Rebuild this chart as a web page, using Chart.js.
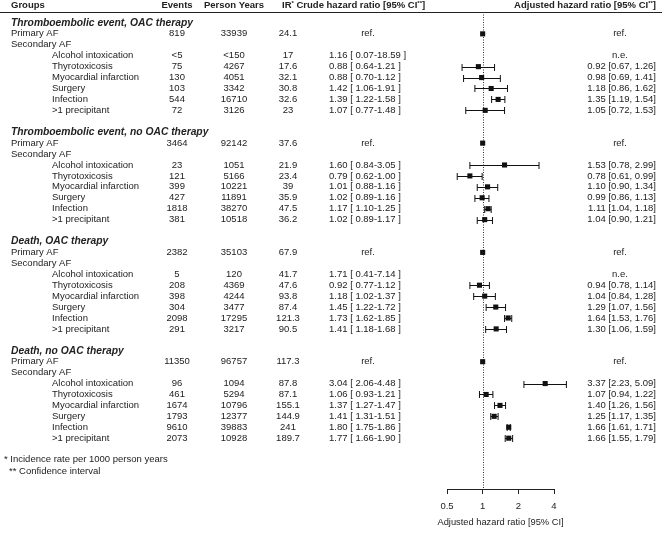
<!DOCTYPE html>
<html>
<head>
<meta charset="utf-8">
<script src="https://cdn.jsdelivr.net/npm/chart.js@4.4.1/dist/chart.umd.min.js"></script>
<style>
body { margin: 0; background: #fff; }
#wrap { width: 668px; height: 533px; position: relative; }
</style>
</head>
<body>
<div id="wrap"><canvas id="forest"></canvas></div>
<script>
// ---- data ----
var groups = ['Thromboembolic event, OAC therapy', 'Thromboembolic event, no OAC therapy', 'Death, OAC therapy', 'Death, no OAC therapy'];
var precipitants = ['Alcohol intoxication', 'Thyrotoxicosis', 'Myocardial infarction', 'Surgery', 'Infection', '>1 precipitant'];

var primaryEvents = [819, 3464, 2382, 11350];
var primaryPY = [33939, 92142, 35103, 96757];
var primaryIR = [24.1, 37.6, 67.9, 117.3];
var refHR = 1;

var events = [
    ['<5', 75, 130, 103, 544, 72],
    [23, 121, 399, 427, 1818, 381],
    [5, 208, 398, 304, 2098, 291],
    [96, 461, 1674, 1793, 9610, 2073]
];
var personYears = [
    ['<150', 4267, 4051, 3342, 16710, 3126],
    [1051, 5166, 10221, 11891, 38270, 10518],
    [120, 4369, 4244, 3477, 17295, 3217],
    [1094, 5294, 10796, 12377, 39883, 10928]
];
var incidence = [
    [17, 17.6, 32.1, 30.8, 32.6, 23],
    [21.9, 23.4, 39, 35.9, 47.5, 36.2],
    [41.7, 47.6, 93.8, 87.4, 121.3, 90.5],
    [87.8, 87.1, 155.1, 144.9, 241, 189.7]
];
// crude hazard ratios [estimate, lower, upper]
var crudeHR = [
    [[1.16, 0.07, 18.59], [0.88, 0.64, 1.21], [0.88, 0.70, 1.12], [1.42, 1.06, 1.91], [1.39, 1.22, 1.58], [1.07, 0.77, 1.48]],
    [[1.60, 0.84, 3.05], [0.79, 0.62, 1.00], [1.01, 0.88, 1.16], [1.02, 0.89, 1.16], [1.17, 1.10, 1.25], [1.02, 0.89, 1.17]],
    [[1.71, 0.41, 7.14], [0.92, 0.77, 1.12], [1.18, 1.02, 1.37], [1.45, 1.22, 1.72], [1.73, 1.62, 1.85], [1.41, 1.18, 1.68]],
    [[3.04, 2.06, 4.48], [1.06, 0.93, 1.21], [1.37, 1.27, 1.47], [1.41, 1.31, 1.51], [1.80, 1.75, 1.86], [1.77, 1.66, 1.90]]
];
// adjusted hazard ratios (null = not estimable)
var adjHR = [
    [null, [0.92, 0.67, 1.26], [0.98, 0.69, 1.41], [1.18, 0.86, 1.62], [1.35, 1.19, 1.54], [1.05, 0.72, 1.53]],
    [[1.53, 0.78, 2.99], [0.78, 0.61, 0.99], [1.10, 0.90, 1.34], [0.99, 0.86, 1.13], [1.11, 1.04, 1.18], [1.04, 0.90, 1.21]],
    [null, [0.94, 0.78, 1.14], [1.04, 0.84, 1.28], [1.29, 1.07, 1.56], [1.64, 1.53, 1.76], [1.30, 1.06, 1.59]],
    [[3.37, 2.23, 5.09], [1.07, 0.94, 1.22], [1.40, 1.26, 1.56], [1.25, 1.17, 1.35], [1.66, 1.61, 1.71], [1.66, 1.55, 1.79]]
];
var xTicks = [0.5, 1, 2, 4];
var xTitle = 'Adjusted hazard ratio [95% CI]';

// ---- layout helpers ----
var ROWS_PER_GROUP = 10;
var FONT = '"Liberation Sans", Arial, sans-serif';
var TXT = '#222';

function groupRow(g) { return g * ROWS_PER_GROUP; }

var points = [];
groups.forEach(function (name, g) {
    points.push({ x: refHR, y: groupRow(g) + 1 });
    adjHR[g].forEach(function (hr, k) {
        if (hr) points.push({ x: hr[0], y: groupRow(g) + 3 + k });
    });
});

function text(ctx, s, x, y, align, font) {
    ctx.font = font || ('9.5px ' + FONT);
    ctx.textAlign = align || 'left';
    ctx.fillText(s, x, y);
}

// draw a run of pieces, each [text, font, dy]
function runs(ctx, pieces, x, y) {
    ctx.textAlign = 'left';
    pieces.forEach(function (p) {
        ctx.font = p[1];
        ctx.fillText(p[0], x, y + (p[2] || 0));
        x += ctx.measureText(p[0]).width;
    });
    return x;
}

var tablePlugin = {
    id: 'table',
    afterDraw: function (chart) {
        var ctx = chart.ctx;
        var ys = chart.scales.y;
        var ca = chart.chartArea;
        ctx.save();
        ctx.fillStyle = TXT;
        ctx.textBaseline = 'middle';

        // header
        var hy = ys.getPixelForValue(-1.6);
        var bold = 'bold 9.5px ' + FONT;
        var sup = 'bold 6px ' + FONT;
        text(ctx, 'Groups', 11, hy, 'left', bold);
        text(ctx, 'Events', 177, hy, 'center', bold);
        text(ctx, 'Person Years', 234, hy, 'center', bold);
        runs(ctx, [['IR', bold], ['*', sup, -2], [' Crude hazard ratio [95% CI', bold], ['**', sup, -2], [']', bold]], 282, hy);
        var adjHead = [['Adjusted hazard ratio [95% CI', bold], ['**', sup, -2], [']', bold]];
        var w = 0;
        adjHead.forEach(function (p) { ctx.font = p[1]; w += ctx.measureText(p[0]).width; });
        runs(ctx, adjHead, 656 - w, hy);

        ctx.strokeStyle = '#222';
        ctx.lineWidth = 1;
        ctx.beginPath();
        ctx.moveTo(0, Math.round(ca.top) + 0.5);
        ctx.lineTo(662, Math.round(ca.top) + 0.5);
        ctx.stroke();

        groups.forEach(function (name, g) {
            var r0 = groupRow(g);
            text(ctx, name, 11, ys.getPixelForValue(r0), 'left', 'bold italic 10.3px ' + FONT);
            var y1 = ys.getPixelForValue(r0 + 1);
            text(ctx, 'Primary AF', 11, y1);
            text(ctx, String(primaryEvents[g]), 177, y1, 'center');
            text(ctx, String(primaryPY[g]), 234, y1, 'center');
            text(ctx, String(primaryIR[g]), 288, y1, 'center');
            text(ctx, 'ref.', 368, y1, 'center');
            text(ctx, 'ref.', 620, y1, 'center');
            text(ctx, 'Secondary AF', 11, ys.getPixelForValue(r0 + 2));
            precipitants.forEach(function (p, k) {
                var y = ys.getPixelForValue(r0 + 3 + k);
                var c = crudeHR[g][k];
                var a = adjHR[g][k];
                text(ctx, p, 52, y);
                text(ctx, String(events[g][k]), 177, y, 'center');
                text(ctx, String(personYears[g][k]), 234, y, 'center');
                text(ctx, String(incidence[g][k]), 288, y, 'center');
                text(ctx, c[0].toFixed(2) + ' [ ' + c[1].toFixed(2) + '-' + c[2].toFixed(2) + ' ]', 329, y);
                if (a) text(ctx, a[0].toFixed(2) + ' [' + a[1].toFixed(2) + ', ' + a[2].toFixed(2) + ']', 656, y, 'right');
                else text(ctx, 'n.e.', 620, y, 'center');
            });
        });

        text(ctx, '* Incidence rate per 1000 person years', 4, ys.getPixelForValue(39.9));
        text(ctx, '** Confidence interval', 9, ys.getPixelForValue(41));

        // x axis title (drawn here so it is not squeezed to the plot width)
        text(ctx, xTitle, (ca.left + ca.right) / 2, ca.bottom + 33, 'center', '9.3px ' + FONT);
        ctx.restore();
    }
};

var ciPlugin = {
    id: 'ci',
    beforeDatasetsDraw: function (chart) {
        var ctx = chart.ctx;
        var xs = chart.scales.x;
        var ca = chart.chartArea;
        var x1 = Math.round(xs.getPixelForValue(refHR)) + 0.5;
        ctx.save();
        ctx.strokeStyle = '#333';
        ctx.lineWidth = 1;
        ctx.setLineDash([1, 1.5]);
        ctx.beginPath();
        ctx.moveTo(x1, ca.top);
        ctx.lineTo(x1, ca.bottom);
        ctx.stroke();
        ctx.restore();
    },
    afterDatasetsDraw: function (chart) {
        var ctx = chart.ctx;
        var xs = chart.scales.x;
        var ys = chart.scales.y;
        ctx.save();
        ctx.strokeStyle = '#111';
        ctx.lineWidth = 1;
        groups.forEach(function (name, g) {
            adjHR[g].forEach(function (hr, k) {
                if (!hr) return;
                var y = Math.round(ys.getPixelForValue(groupRow(g) + 3 + k)) + 0.5;
                var a = xs.getPixelForValue(hr[1]);
                var b = xs.getPixelForValue(hr[2]);
                ctx.beginPath();
                ctx.moveTo(a, y); ctx.lineTo(b, y);
                ctx.moveTo(a, y - 3.5); ctx.lineTo(a, y + 3.5);
                ctx.moveTo(b, y - 3.5); ctx.lineTo(b, y + 3.5);
                ctx.stroke();
            });
        });
        ctx.restore();
    }
};

new Chart(document.getElementById('forest'), {
    type: 'scatter',
    data: {
        datasets: [{
            data: points,
            pointStyle: 'rect',
            pointRadius: 3.6,
            backgroundColor: '#111',
            borderColor: '#111',
            borderWidth: 0,
            clip: false
        }]
    },
    options: {
        responsive: true,
        maintainAspectRatio: false,
        animation: false,
        events: [],
        layout: { padding: { left: 447, right: 114, top: 12, bottom: 0 } },
        plugins: { legend: { display: false }, tooltip: { enabled: false } },
        scales: {
            x: {
                type: 'logarithmic',
                min: 0.5,
                max: 4,
                afterBuildTicks: function (s) { s.ticks = xTicks.map(function (v) { return { value: v }; }); },
                afterFit: function (s) { s.height = 44; },
                ticks: {
                    autoSkip: false,
                    maxRotation: 0,
                    padding: 7,
                    color: TXT,
                    font: { family: FONT, size: 9.5 },
                    callback: function (v) { return String(v); }
                },
                grid: { drawOnChartArea: false, tickLength: 5, color: '#222' },
                border: { display: true, color: '#222', width: 1 },
                title: { display: false }
            },
            y: {
                type: 'linear',
                reverse: true,
                min: -1,
                max: 42.65,
                display: false
            }
        }
    },
    plugins: [tablePlugin, ciPlugin]
});
</script>
</body>
</html>
